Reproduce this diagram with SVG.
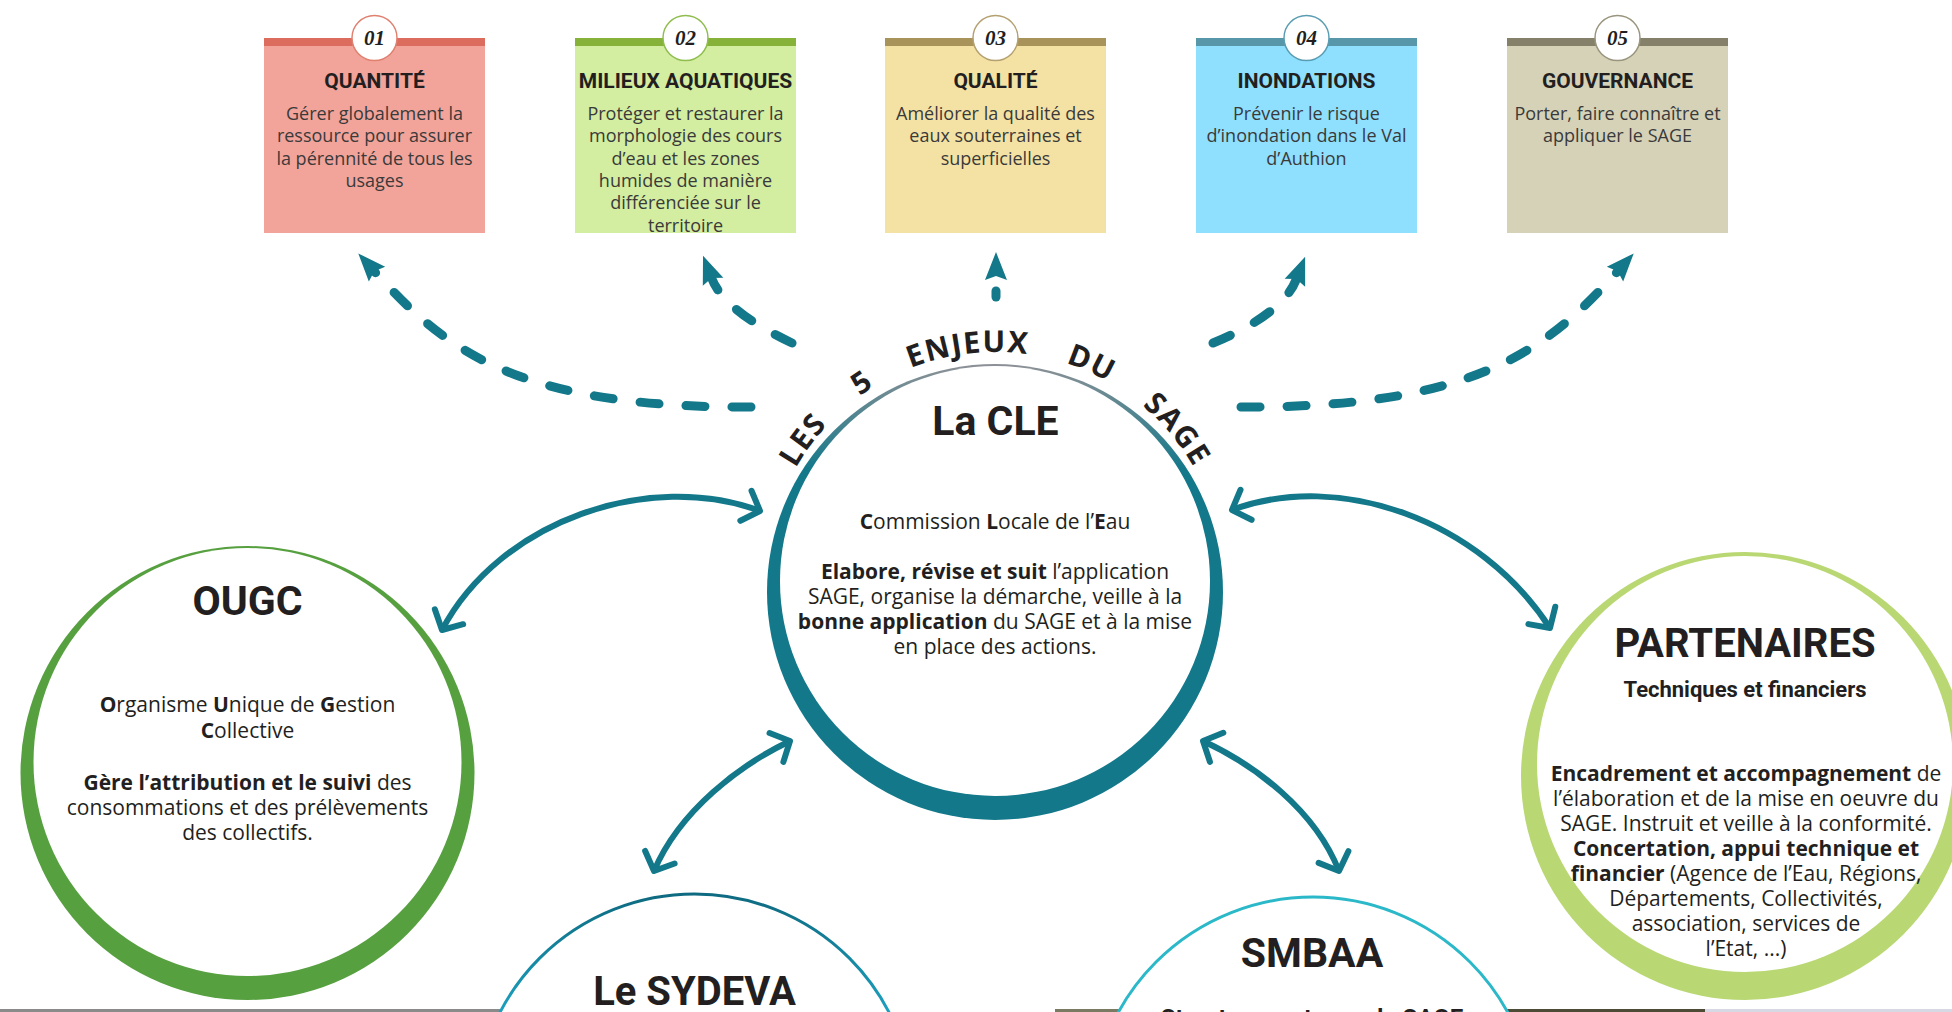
<svg xmlns="http://www.w3.org/2000/svg" width="1952" height="1012" viewBox="0 0 1952 1012">
<style>
.btitle{font-family:Roboto,"Liberation Sans",sans-serif;font-weight:700;font-size:21px;fill:#231f20;text-anchor:middle}
.bbody{font-family:"Open Sans","Liberation Sans",sans-serif;font-size:18px;fill:#3a3a3a;text-anchor:middle}
.num{font-family:"Liberation Serif",serif;font-weight:700;font-style:italic;font-size:21px;fill:#231f20;text-anchor:middle}
.head{font-family:Roboto,"Liberation Sans",sans-serif;font-weight:700;fill:#231f20;text-anchor:middle}
.body{font-family:"Open Sans","Liberation Sans",sans-serif;font-size:21px;fill:#231f20;text-anchor:middle}
.b{font-weight:700}
.arc{font-family:"Open Sans","Liberation Sans",sans-serif;font-weight:700;font-size:30px;letter-spacing:1.5px;fill:#231f20}
.dash{fill:none;stroke:#12788a;stroke-width:9;stroke-linecap:round;stroke-dasharray:19 27}
.solid{fill:none;stroke:#12788a;stroke-width:6}
</style>
<defs>
<linearGradient id="cleGrad" gradientUnits="userSpaceOnUse" x1="995" y1="364" x2="995" y2="470">
<stop offset="0" stop-color="#8d9196"/><stop offset="1" stop-color="#12788a"/>
</linearGradient>
<linearGradient id="sydGrad" gradientUnits="userSpaceOnUse" x1="0" y1="894" x2="0" y2="1012">
<stop offset="0" stop-color="#0e6a80"/><stop offset="1" stop-color="#1ca0be"/>
</linearGradient>
<marker id="tri" markerUnits="userSpaceOnUse" viewBox="-30 -14 32 28" markerWidth="32" markerHeight="28" refX="-25" refY="0" orient="auto" overflow="visible">
<path d="M0 0 L-28 -11 L-24 0 L-28 11 Z" fill="#12788a"/>
</marker>
<marker id="chev" markerUnits="userSpaceOnUse" viewBox="-20 -20 24 40" markerWidth="24" markerHeight="40" refX="0" refY="0" orient="auto-start-reverse" overflow="visible">
<path d="M-15 -16 L0 0 L-15 16" fill="none" stroke="#12788a" stroke-width="6" stroke-linecap="round" stroke-linejoin="round"/>
</marker>
<path id="arcPath" d="M766 581 A229 229 0 0 1 1224 581"/>
</defs>
<rect width="1952" height="1012" fill="#fff"/>

<g id="photo-strip">
<rect x="0" y="1009" width="500" height="3" fill="#8a8a8a"/>
<rect x="1055" y="1009" width="64" height="3" fill="#7a7a62"/>
<rect x="1505" y="1009" width="200" height="3" fill="#4d4a35"/>
<rect x="1705" y="1009" width="247" height="3" fill="#d6d9e3"/>
</g>

<g id="enjeu-01">
<rect x="264" y="38" width="221" height="195" fill="#f2a49a"/>
<rect x="264" y="38" width="221" height="8" fill="#dc6c5d"/>
<circle cx="374.5" cy="38" r="22.5" fill="#fff" stroke="#e08070" stroke-width="1.5"/>
<text class="num" x="374.5" y="45">01</text>
<text class="btitle" x="374.5" y="88">QUANTITÉ</text>
<text class="bbody" y="120"><tspan x="374.5">Gérer globalement la</tspan><tspan x="374.5" dy="22.3">ressource pour assurer</tspan><tspan x="374.5" dy="22.3">la pérennité de tous les</tspan><tspan x="374.5" dy="22.3">usages</tspan></text>
</g>

<g id="enjeu-02">
<rect x="575" y="38" width="221" height="195" fill="#d3eda1"/>
<rect x="575" y="38" width="221" height="8" fill="#86b23a"/>
<circle cx="685.5" cy="38" r="22.5" fill="#fff" stroke="#8fbd4f" stroke-width="1.5"/>
<text class="num" x="685.5" y="45">02</text>
<text class="btitle" x="685.5" y="88">MILIEUX AQUATIQUES</text>
<text class="bbody" y="120"><tspan x="685.5">Protéger et restaurer la</tspan><tspan x="685.5" dy="22.3">morphologie des cours</tspan><tspan x="685.5" dy="22.3">d’eau et les zones</tspan><tspan x="685.5" dy="22.3">humides de manière</tspan><tspan x="685.5" dy="22.3">différenciée sur le</tspan><tspan x="685.5" dy="22.3">territoire</tspan></text>
</g>

<g id="enjeu-03">
<rect x="885" y="38" width="221" height="195" fill="#f4e2a5"/>
<rect x="885" y="38" width="221" height="8" fill="#a8935a"/>
<circle cx="995.5" cy="38" r="22.5" fill="#fff" stroke="#b5a070" stroke-width="1.5"/>
<text class="num" x="995.5" y="45">03</text>
<text class="btitle" x="995.5" y="88">QUALITÉ</text>
<text class="bbody" y="120"><tspan x="995.5">Améliorer la qualité des</tspan><tspan x="995.5" dy="22.3">eaux souterraines et</tspan><tspan x="995.5" dy="22.3">superficielles</tspan></text>
</g>

<g id="enjeu-04">
<rect x="1196" y="38" width="221" height="195" fill="#8fe0fe"/>
<rect x="1196" y="38" width="221" height="8" fill="#5896aa"/>
<circle cx="1306.5" cy="38" r="22.5" fill="#fff" stroke="#5a9db2" stroke-width="1.5"/>
<text class="num" x="1306.5" y="45">04</text>
<text class="btitle" x="1306.5" y="88">INONDATIONS</text>
<text class="bbody" y="120"><tspan x="1306.5">Prévenir le risque</tspan><tspan x="1306.5" dy="22.3">d’inondation dans le Val</tspan><tspan x="1306.5" dy="22.3">d’Authion</tspan></text>
</g>

<g id="enjeu-05">
<rect x="1507" y="38" width="221" height="195" fill="#d6d2b8"/>
<rect x="1507" y="38" width="221" height="8" fill="#858069"/>
<circle cx="1617.5" cy="38" r="22.5" fill="#fff" stroke="#9a957f" stroke-width="1.5"/>
<text class="num" x="1617.5" y="45">05</text>
<text class="btitle" x="1617.5" y="88">GOUVERNANCE</text>
<text class="bbody" y="120"><tspan x="1617.5">Porter, faire connaître et</tspan><tspan x="1617.5" dy="22.3">appliquer le SAGE</tspan></text>
</g>

<g id="cle">
<circle cx="995" cy="592" r="228" fill="url(#cleGrad)"/>
<circle cx="995" cy="581" r="215" fill="#fff"/>
<text class="arc"><textPath href="#arcPath" startOffset="20.2%" text-anchor="middle">LES</textPath></text>
<text class="arc"><textPath href="#arcPath" startOffset="31.2%" text-anchor="middle">5</textPath></text>
<text class="arc"><textPath href="#arcPath" startOffset="46.3%" text-anchor="middle">ENJEUX</textPath></text>
<text class="arc"><textPath href="#arcPath" startOffset="63.3%" text-anchor="middle">DU</textPath></text>
<text class="arc"><textPath href="#arcPath" startOffset="77.9%" text-anchor="middle">SAGE</textPath></text>
<text class="head" x="995.5" y="435" font-size="41">La CLE</text>
<text class="body" x="995" y="529"><tspan class="b">C</tspan>ommission <tspan class="b">L</tspan>ocale de l’<tspan class="b">E</tspan>au</text>
<text class="body" x="995" y="579"><tspan class="b">Elabore, révise et suit</tspan> l’application</text>
<text class="body" x="995" y="604">SAGE, organise la démarche, veille à la</text>
<text class="body" x="995" y="629"><tspan class="b">bonne application</tspan> du SAGE et à la mise</text>
<text class="body" x="995" y="654">en place des actions.</text>
</g>

<g id="ougc">
<circle cx="247.5" cy="773" r="227" fill="#56a03f"/>
<circle cx="247.5" cy="762" r="214" fill="#fff"/>
<text class="head" x="247.5" y="615" font-size="41">OUGC</text>
<text class="body" x="247.5" y="712"><tspan class="b">O</tspan>rganisme <tspan class="b">U</tspan>nique de <tspan class="b">G</tspan>estion</text>
<text class="body" x="247.5" y="738"><tspan class="b">C</tspan>ollective</text>
<text class="body" x="247.5" y="790"><tspan class="b">Gère l’attribution et le suivi</tspan> des</text>
<text class="body" x="247.5" y="815">consommations et des prélèvements</text>
<text class="body" x="247.5" y="840">des collectifs.</text>
</g>

<g id="partenaires">
<circle cx="1745" cy="776" r="224" fill="#b9d874"/>
<circle cx="1745" cy="764" r="208" fill="#fff"/>
<text class="head" x="1745" y="657" font-size="40">PARTENAIRES</text>
<text class="head" x="1745" y="697" font-size="22">Techniques et financiers</text>
<text class="body" x="1746" y="781"><tspan class="b">Encadrement et accompagnement</tspan> de</text>
<text class="body" x="1746" y="806">l’élaboration et de la mise en oeuvre du</text>
<text class="body" x="1746" y="831">SAGE. Instruit et veille à la conformité.</text>
<text class="body" x="1746" y="856"><tspan class="b">Concertation, appui technique et</tspan></text>
<text class="body" x="1746" y="881"><tspan class="b">financier</tspan> (Agence de l’Eau, Régions,</text>
<text class="body" x="1746" y="906">Départements, Collectivités,</text>
<text class="body" x="1746" y="931">association, services de</text>
<text class="body" x="1746" y="956">l’Etat, ...)</text>
</g>

<g id="sydeva">
<circle cx="694.5" cy="1113" r="219" fill="#fff" stroke="url(#sydGrad)" stroke-width="3"/>
<text class="head" x="694.5" y="1005" font-size="40">Le SYDEVA</text>
</g>

<g id="smbaa">
<circle cx="1313" cy="1119" r="222" fill="#fff" stroke="#2bb8c8" stroke-width="3"/>
<text class="head" x="1312" y="967" font-size="41">SMBAA</text>
<text class="head" x="1312" y="1026" font-size="24">Structure porteuse du SAGE</text>
</g>

<g id="connectors">
<path class="dash" d="M751 407 C520 408 447 352 375 272" marker-end="url(#tri)"/>
<path class="dash" d="M792 343 C760 328 722 305 712 279" marker-end="url(#tri)"/>
<path class="dash" d="M996 297 L996 277" style="stroke-dasharray:6 40" marker-end="url(#tri)"/>
<path class="dash" d="M1213 343 C1245 330 1285 308 1296 280" marker-end="url(#tri)"/>
<path class="dash" d="M1241 407 C1472 408 1545 352 1617 272" marker-end="url(#tri)"/>
<path class="solid" d="M442 630 C500 520 650 470 760 511" marker-start="url(#chev)" marker-end="url(#chev)"/>
<path class="solid" d="M1232 510 C1340 470 1480 520 1550 628" marker-start="url(#chev)" marker-end="url(#chev)"/>
<path class="solid" d="M790 741 C740 765 680 810 654 871" marker-start="url(#chev)" marker-end="url(#chev)"/>
<path class="solid" d="M1203 741 C1255 765 1315 810 1339 871" marker-start="url(#chev)" marker-end="url(#chev)"/>
</g>
</svg>
